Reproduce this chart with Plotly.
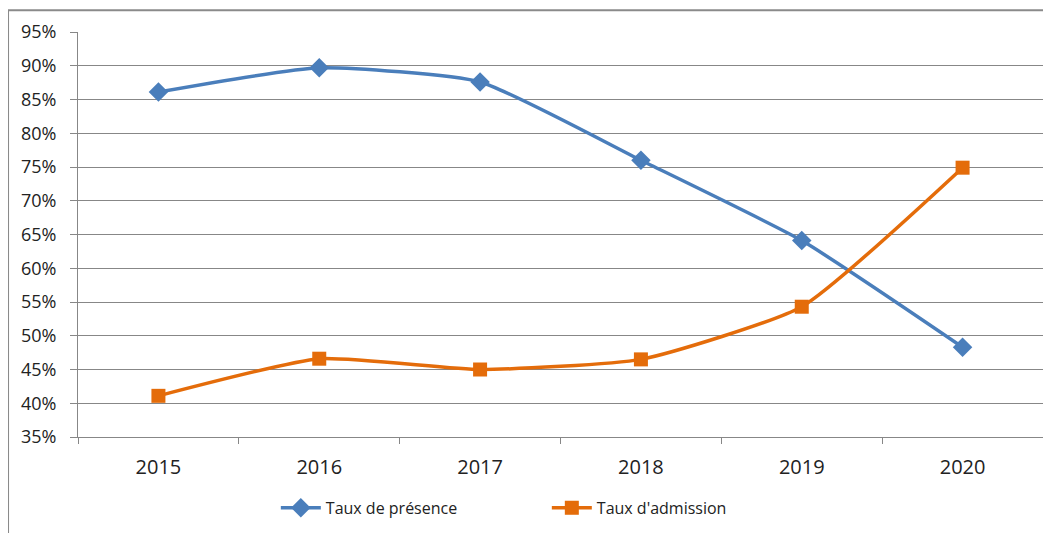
import plotly.graph_objects as go

years = ["2015", "2016", "2017", "2018", "2019", "2020"]
presence = [0.861, 0.897, 0.876, 0.760, 0.641, 0.483]
admission = [0.411, 0.466, 0.450, 0.465, 0.543, 0.749]

blue = "#4A7EBB"
orange = "#E46C0A"
grid = "#878787"
font = "Open Sans"

fig = go.Figure()
fig.add_trace(go.Scatter(x=years, y=presence, name="Taux de présence",
                         mode="lines+markers", line=dict(color=blue, width=3.5, shape="spline", smoothing=0.5),
                         marker=dict(symbol="diamond", size=15, color=blue)))
fig.add_trace(go.Scatter(x=years, y=admission, name="Taux d'admission",
                         mode="lines+markers", line=dict(color=orange, width=3.5, shape="spline", smoothing=0.5),
                         marker=dict(symbol="square", size=14, color=orange)))

fig.add_hline(y=0.45, line=dict(color=grid, width=2), layer="below")

fig.update_layout(
    width=1043, height=525,
    margin=dict(l=70, r=8, t=24, b=96),
    paper_bgcolor="white", plot_bgcolor="white",
    font=dict(family=font, size=16, color="#222222"),
    showlegend=True,
    legend=dict(orientation="h", x=0.205, xanchor="left", y=-0.175, yanchor="middle",
                font=dict(family=font, size=16, color="#222222"),
                entrywidth=216, entrywidthmode="pixels", itemwidth=40),
    shapes=[dict(type="rect", xref="paper", yref="paper", x0=-0.0725, x1=1.05, y0=-0.3, y1=1.054,
                 line=dict(color="#8a8a8a", width=2), layer="below")],
)
fig.update_xaxes(type="category", showgrid=False, showline=True, linecolor=grid, linewidth=1,
                 ticks="outside", tickson="boundaries", ticklen=6, tickcolor=grid,
                 ticklabelstandoff=12,
                 tickfont=dict(family=font, size=20), range=[-0.5, 5.5])
fig.update_yaxes(range=[0.35, 0.95], dtick=0.05, tickformat=".0%", showgrid=True, gridcolor=grid,
                 gridwidth=1, showline=True, linecolor=grid, linewidth=1, ticks="outside",
                 ticklen=7, tickcolor=grid, ticklabelstandoff=10,
                 tickfont=dict(family=font, size=18), zeroline=False)

fig.write_html("out.html")
